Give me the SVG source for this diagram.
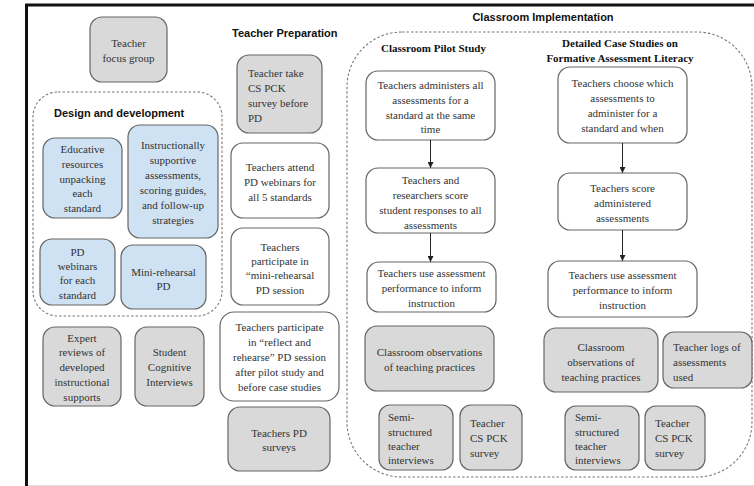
<svg xmlns="http://www.w3.org/2000/svg" width="754" height="486" viewBox="0 0 754 486">
<defs>
<style>
.b{stroke:#666;stroke-width:1.2}
.g{fill:#d9d9d9}
.w{fill:#fff}
.bl{fill:#cfe2f3}
.dash{fill:none;stroke:#777;stroke-width:1.1;stroke-dasharray:2.5,2}
.t{font-family:"Liberation Serif","Times New Roman",serif;font-size:11px;fill:#333;text-anchor:middle}
.tl{font-family:"Liberation Serif","Times New Roman",serif;font-size:11px;fill:#333;text-anchor:start}
.h{font-family:"Liberation Sans",Arial,sans-serif;font-size:11px;font-weight:bold;fill:#111}
.hs{font-family:"Liberation Serif","Times New Roman",serif;font-size:11px;font-weight:bold;fill:#111;text-anchor:middle}
.c{stroke:#222;stroke-width:1;fill:none}
</style>
<marker id="ah" viewBox="0 0 8 8" refX="8" refY="4" markerWidth="6" markerHeight="6" orient="auto" markerUnits="userSpaceOnUse">
<path d="M0,0 L8,4 L0,8 Z" fill="#222"/>
</marker>
</defs>
<rect x="0" y="0" width="754" height="486" fill="#fff"/>
<g id="frame">
<line x1="25" y1="5" x2="754" y2="5" stroke="#111" stroke-width="3"/>
<line x1="26.5" y1="4" x2="26.5" y2="486" stroke="#111" stroke-width="3"/>
<line x1="28" y1="485.5" x2="754" y2="485.5" stroke="#ddd" stroke-width="1"/>
</g>

<g id="teacher-focus-group">
<rect class="b g" x="90" y="17" width="77" height="65" rx="12"/>
<text class="t" x="128.5" y="47">Teacher</text>
<text class="t" x="128.5" y="62">focus group</text>
</g>

<g id="design-development">
<rect class="dash" x="33" y="92" width="189" height="224" rx="25"/>
<text class="h" x="54" y="117">Design and development</text>
</g>
<g id="educative-resources">
<rect class="b bl" x="43" y="138" width="79" height="80" rx="12"/>
<text class="t" x="82.5" y="153">Educative</text>
<text class="t" x="82.5" y="168">resources</text>
<text class="t" x="82.5" y="183">unpacking</text>
<text class="t" x="82.5" y="197">each</text>
<text class="t" x="82.5" y="212">standard</text>
</g>
<g id="instructional-assessments">
<rect class="b bl" x="128" y="125" width="90" height="113" rx="12"/>
<text class="t" x="173" y="149">Instructionally</text>
<text class="t" x="173" y="164">supportive</text>
<text class="t" x="173" y="179">assessments,</text>
<text class="t" x="173" y="194">scoring guides,</text>
<text class="t" x="173" y="209">and follow-up</text>
<text class="t" x="173" y="224">strategies</text>
</g>
<g id="pd-webinars">
<rect class="b bl" x="40" y="239" width="75" height="66" rx="12"/>
<text class="t" x="77.5" y="256">PD</text>
<text class="t" x="77.5" y="270">webinars</text>
<text class="t" x="77.5" y="284">for each</text>
<text class="t" x="77.5" y="299">standard</text>
</g>
<g id="mini-rehearsal-pd">
<rect class="b bl" x="121" y="245" width="85" height="64" rx="12"/>
<text class="t" x="163.5" y="276">Mini-rehearsal</text>
<text class="t" x="163.5" y="290">PD</text>
</g>
<g id="expert-reviews">
<rect class="b g" x="43" y="327" width="78" height="79" rx="12"/>
<text class="t" x="82" y="342">Expert</text>
<text class="t" x="82" y="356">reviews of</text>
<text class="t" x="82" y="371">developed</text>
<text class="t" x="82" y="386">instructional</text>
<text class="t" x="82" y="401">supports</text>
</g>
<g id="student-interviews">
<rect class="b g" x="135" y="327" width="69" height="79" rx="12"/>
<text class="t" x="169.5" y="356">Student</text>
<text class="t" x="169.5" y="371">Cognitive</text>
<text class="t" x="169.5" y="386">Interviews</text>
</g>

<g id="teacher-preparation-title">
<text class="h" x="232" y="37">Teacher Preparation</text>
</g>
<g id="cs-pck-before">
<rect class="b g" x="237" y="55" width="85" height="78" rx="12"/>
<text class="tl" x="248" y="77">Teacher take</text>
<text class="tl" x="248" y="92">CS PCK</text>
<text class="tl" x="248" y="107">survey before</text>
<text class="tl" x="248" y="122">PD</text>
</g>
<g id="attend-webinars">
<rect class="b w" x="231" y="143" width="98" height="75" rx="12"/>
<text class="t" x="280" y="171">Teachers attend</text>
<text class="t" x="280" y="186">PD webinars for</text>
<text class="t" x="280" y="201">all 5 standards</text>
</g>
<g id="participate-mini">
<rect class="b w" x="231" y="228" width="98" height="77" rx="12"/>
<text class="t" x="280" y="251">Teachers</text>
<text class="t" x="280" y="265">participate in</text>
<text class="t" x="280" y="279">“mini-rehearsal</text>
<text class="t" x="280" y="294">PD session</text>
</g>
<g id="reflect-rehearse">
<rect class="b w" x="220" y="312" width="119" height="89" rx="14"/>
<text class="t" x="279.5" y="331">Teachers participate</text>
<text class="t" x="279.5" y="346">in “reflect and</text>
<text class="t" x="279.5" y="361">rehearse” PD session</text>
<text class="t" x="279.5" y="376">after pilot study and</text>
<text class="t" x="279.5" y="391">before case studies</text>
</g>
<g id="pd-surveys">
<rect class="b g" x="228" y="407" width="102" height="64" rx="12"/>
<text class="t" x="279" y="437">Teachers PD</text>
<text class="t" x="279" y="451">surveys</text>
</g>

<g id="classroom-implementation">
<rect class="dash" x="347" y="32" width="405" height="445" rx="55"/>
<text class="h" x="543" y="21" text-anchor="middle">Classroom Implementation</text>
<text class="hs" x="433.5" y="52">Classroom Pilot Study</text>
<text class="hs" x="620" y="47">Detailed Case Studies on</text>
<text class="hs" x="620" y="62">Formative Assessment Literacy</text>
</g>
<g id="pilot-administer">
<rect class="b w" x="366" y="71" width="129" height="69" rx="12"/>
<text class="t" x="430.5" y="89">Teachers administers all</text>
<text class="t" x="430.5" y="104">assessments for a</text>
<text class="t" x="430.5" y="119">standard at the same</text>
<text class="t" x="430.5" y="133">time</text>
</g>
<g id="pilot-score">
<rect class="b w" x="366" y="168" width="129" height="65" rx="12"/>
<text class="t" x="430.5" y="184">Teachers and</text>
<text class="t" x="430.5" y="199">researchers score</text>
<text class="t" x="430.5" y="214">student responses to all</text>
<text class="t" x="430.5" y="229">assessments</text>
</g>
<g id="pilot-use">
<rect class="b w" x="367" y="262" width="129" height="50" rx="12"/>
<text class="t" x="431.5" y="277">Teachers use assessment</text>
<text class="t" x="431.5" y="292">performance to inform</text>
<text class="t" x="431.5" y="307">instruction</text>
</g>
<g id="pilot-observations">
<rect class="b g" x="365" y="326" width="129" height="65" rx="12"/>
<text class="t" x="429.5" y="356">Classroom observations</text>
<text class="t" x="429.5" y="371">of teaching practices</text>
</g>
<g id="pilot-interviews">
<rect class="b g" x="379" y="405" width="74" height="65" rx="11"/>
<text class="tl" x="388" y="421">Semi-</text>
<text class="tl" x="388" y="436">structured</text>
<text class="tl" x="388" y="450">teacher</text>
<text class="tl" x="388" y="464">interviews</text>
</g>
<g id="pilot-cspck">
<rect class="b g" x="460" y="405" width="62" height="65" rx="11"/>
<text class="tl" x="470" y="427">Teacher</text>
<text class="tl" x="470" y="442">CS PCK</text>
<text class="tl" x="470" y="457">survey</text>
</g>

<g id="case-choose">
<rect class="b w" x="558" y="67" width="129" height="76" rx="12"/>
<text class="t" x="622.5" y="87">Teachers choose which</text>
<text class="t" x="622.5" y="102">assessments to</text>
<text class="t" x="622.5" y="117">administer for a</text>
<text class="t" x="622.5" y="132">standard and when</text>
</g>
<g id="case-score">
<rect class="b w" x="558" y="173" width="129" height="57" rx="12"/>
<text class="t" x="622.5" y="192">Teachers score</text>
<text class="t" x="622.5" y="207">administered</text>
<text class="t" x="622.5" y="222">assessments</text>
</g>
<g id="case-use">
<rect class="b w" x="548" y="261" width="149" height="56" rx="12"/>
<text class="t" x="622.5" y="279">Teachers use assessment</text>
<text class="t" x="622.5" y="294">performance to inform</text>
<text class="t" x="622.5" y="309">instruction</text>
</g>
<g id="case-observations">
<rect class="b g" x="544" y="328" width="114" height="64" rx="12"/>
<text class="t" x="601" y="351">Classroom</text>
<text class="t" x="601" y="366">observations of</text>
<text class="t" x="601" y="381">teaching practices</text>
</g>
<g id="case-logs">
<rect class="b g" x="663" y="332" width="89" height="56" rx="11"/>
<text class="tl" x="673" y="351">Teacher logs of</text>
<text class="tl" x="673" y="366">assessments</text>
<text class="tl" x="673" y="381">used</text>
</g>
<g id="case-interviews">
<rect class="b g" x="565" y="406" width="74" height="64" rx="11"/>
<text class="tl" x="575" y="421">Semi-</text>
<text class="tl" x="575" y="436">structured</text>
<text class="tl" x="575" y="450">teacher</text>
<text class="tl" x="575" y="464">interviews</text>
</g>
<g id="case-cspck">
<rect class="b g" x="645" y="406" width="60" height="64" rx="11"/>
<text class="tl" x="655" y="427">Teacher</text>
<text class="tl" x="655" y="442">CS PCK</text>
<text class="tl" x="655" y="457">survey</text>
</g>

<g id="connectors">
<line class="c" x1="430.5" y1="140" x2="430.5" y2="168" marker-end="url(#ah)"/>
<line class="c" x1="430.5" y1="233" x2="430.5" y2="262" marker-end="url(#ah)"/>
<line class="c" x1="622.5" y1="143" x2="622.5" y2="173" marker-end="url(#ah)"/>
<line class="c" x1="622.5" y1="230" x2="622.5" y2="261" marker-end="url(#ah)"/>
</g>
</svg>
